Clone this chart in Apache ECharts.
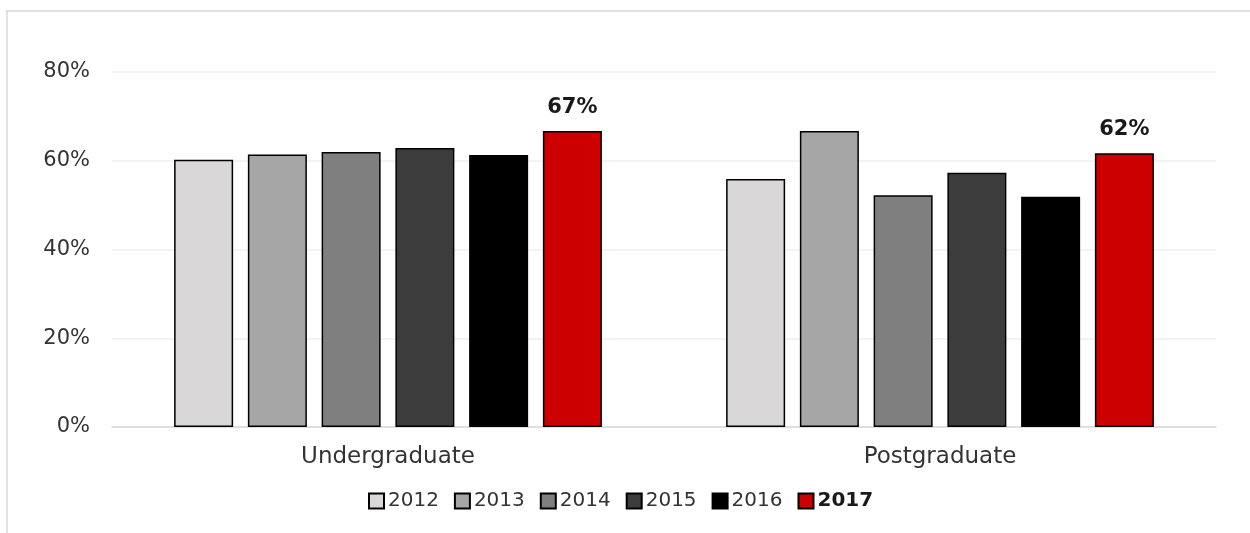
<!DOCTYPE html>
<html>
<head>
<meta charset="utf-8">
<script src="https://cdn.jsdelivr.net/npm/echarts@6/dist/echarts.min.js"></script>
<style>
  html, body { margin: 0; padding: 0; background: #ffffff; }
  #chart { width: 1250px; height: 533px; }
</style>
</head>
<body>
<div id="chart"></div>
<script>
// Share of students by level of study, 2012–2017
const categories = ['Undergraduate', 'Postgraduate'];
const years = ['2012', '2013', '2014', '2015', '2016', '2017'];
const values2012 = [60.2, 55.9];
const values2013 = [61.4, 66.7];
const values2014 = [62.0, 52.2];
const values2015 = [62.9, 57.3];
const values2016 = [61.3, 51.9];
const values2017 = [66.7, 61.7];
const yTicks = [0, 20, 40, 60, 80];

const seriesValues = [values2012, values2013, values2014, values2015, values2016, values2017];
const colors = ['#d9d7d8', '#a6a6a6', '#7f7f7f', '#3c3c3c', '#000000', '#cc0000'];
const fontFamily = '"DejaVu Sans", "Noto Sans", sans-serif';

const chart = echarts.init(document.getElementById('chart'));

const series = years.map((y, i) => {
  const isLatest = i === years.length - 1;
  return {
    name: y,
    type: 'bar',
    data: seriesValues[i],
    barWidth: 59,
    barGap: '25%',
    itemStyle: { color: colors[i], borderColor: '#000000', borderWidth: 1.5 },
    label: isLatest ? {
      show: true,
      position: 'top',
      distance: 13,
      formatter: p => Math.round(p.value) + '%',
      fontFamily: fontFamily,
      fontSize: 21,
      fontWeight: 'bold',
      color: '#1a1a1a'
    } : { show: false },
    emphasis: { disabled: true }
  };
});

chart.setOption({
  backgroundColor: '#ffffff',
  animation: false,
  graphic: [{
    type: 'rect',
    shape: { x: 7, y: 11, width: 1300, height: 600 },
    style: { fill: 'none', stroke: '#d9d9d9', lineWidth: 1.5 },
    silent: true,
    z: -1
  }],
  grid: { left: 112, right: 34, top: 72, bottom: 106, containLabel: false },
  legend: {
    data: years.map((y, i) => ({
      name: y,
      textStyle: i === years.length - 1 ? { fontWeight: 'bold', color: '#1a1a1a' } : {}
    })),
    left: 363,
    top: 486,
    itemWidth: 15,
    itemHeight: 15,
    itemGap: 15,
    icon: 'rect',
    textStyle: { fontFamily: fontFamily, fontSize: 20, color: '#333333', padding: [0, 0, 0, -1] },
    selectedMode: false
  },
  xAxis: {
    type: 'category',
    data: categories,
    axisLine: { show: true, lineStyle: { color: '#d9d9d9', width: 1.5 } },
    axisTick: { show: false },
    axisLabel: { fontFamily: fontFamily, fontSize: 23, color: '#333333', margin: 19 }
  },
  yAxis: {
    type: 'value',
    min: yTicks[0],
    max: yTicks[yTicks.length - 1],
    interval: 20,
    axisLine: { show: false },
    axisTick: { show: false },
    splitLine: { lineStyle: { color: '#efefef', width: 1.5 } },
    axisLabel: { formatter: v => v + '%', fontFamily: fontFamily, fontSize: 21, color: '#333333', margin: 22 }
  },
  series: series
});
</script>
</body>
</html>
